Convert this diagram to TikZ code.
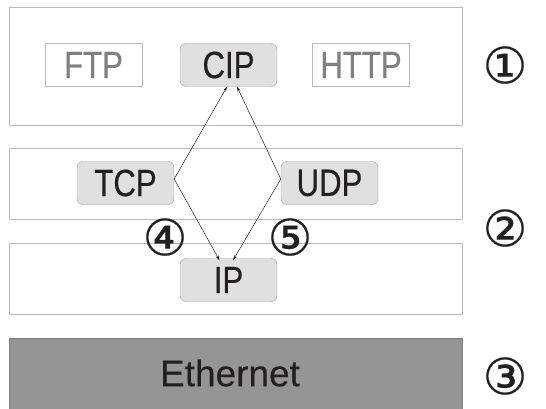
\documentclass[tikz,border=0pt]{standalone}
\usepackage{fontspec}
\setmainfont{Liberation Sans}
\newfontfamily\narrowfont[FakeStretch=0.82,FakeBold=0.4]{Liberation Sans}
\newfontfamily\widefont[FakeBold=0.3]{Liberation Sans}
\newfontfamily\symfont[FakeBold=0.4]{DejaVu Sans}
\usepackage{xcolor}
\usetikzlibrary{arrows.meta, calc, positioning}
\definecolor{inkblack}{HTML}{231F20}
\definecolor{rulegray}{HTML}{BBBBBB}
\definecolor{boxfill}{HTML}{E0E0E0}
\definecolor{ethfill}{HTML}{959595}

\begin{document}
\begin{tikzpicture}[
    x=1pt, y=-1pt,
    >={Stealth[length=5pt,width=3pt]},
    layer/.style={draw=rulegray, line width=0.8pt},
    proto/.style={draw=rulegray!85!black, fill=boxfill, rounded corners=6pt,
        minimum width=97pt, minimum height=43pt, inner sep=0pt,
        font=\narrowfont\fontsize{38}{38}\selectfont, text=inkblack},
    unused/.style={draw=rulegray, fill=white, minimum width=97pt, minimum height=43pt,
        inner sep=0pt, font=\narrowfont\fontsize{38}{38}\selectfont, text=gray},
    num/.style={font=\symfont\fontsize{50}{50}\selectfont, text=inkblack, inner sep=0pt},
    link/.style={->, inkblack, line width=0.5pt},
]
\useasboundingbox (0,0) rectangle (546,409);
% layer frames
\draw[layer] (9,7) rectangle (462,125);
\draw[layer] (9,148) rectangle (462,219);
\draw[layer] (9,243) rectangle (462,314);
\draw[draw=ethfill!85!black, fill=ethfill, line width=0.8pt] (9,338) rectangle (462,410);
% protocols
\node[unused] (ftp) at (93.5,65) {FTP};
\node[proto] (cip) at (228.5,65) {CIP};
\node[unused] (http) at (361,65) {HTTP};
\node[proto] (tcp) at (125.5,183) {TCP};
\node[proto] (udp) at (329.5,183) {UDP};
\node[proto] (ip) at (228.5,280) {IP};
\node[font=\widefont\fontsize{37}{37}\selectfont, text=inkblack] (eth) at (230,373) {Ethernet};
% layer numbers
\node[num] (n1) at (505,65) {①};
\node[num] (n2) at (505,228) {②};
\node[num] (n3) at (505,376) {③};
\node[num] (n4) at (165,237) {④};
\node[num] (n5) at (290,237) {⑤};
% links
\coordinate (tcpout) at ($(tcp.east)+(0,-4)$);
\coordinate (udpout) at ($(udp.west)+(0,-4)$);
\draw[link] (tcpout) -- ($(cip.south)+(-1.5,0)$);
\draw[link] (tcpout) -- ($(ip.north)+(-9,2)$);
\draw[link] (udpout) -- ($(cip.south)+(8.5,0)$);
\draw[link] (udpout) -- ($(ip.north)+(4.5,2)$);
\end{tikzpicture}
\end{document}
